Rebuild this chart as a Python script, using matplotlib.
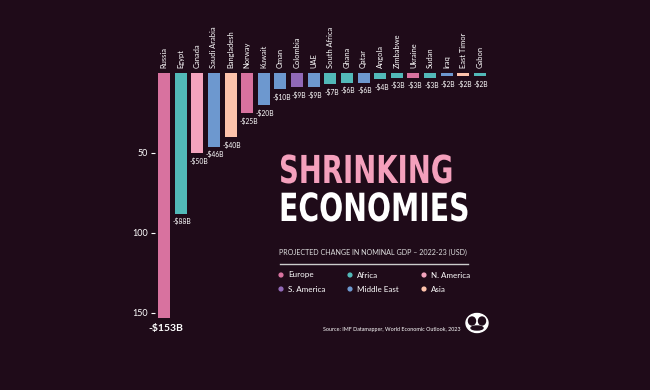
import matplotlib
matplotlib.use("Agg")
import matplotlib.pyplot as plt
from matplotlib.patches import Ellipse
from matplotlib.patheffects import AbstractPathEffect
from matplotlib.transforms import Affine2D

countries = ["Russia", "Egypt", "Canada", "Saudi Arabia", "Bangladesh", "Norway", "Kuwait",
             "Oman", "Colombia", "UAE", "South Africa", "Ghana", "Qatar", "Angola",
             "Zimbabwe", "Ukraine", "Sudan", "Iraq", "East Timor", "Gabon"]
change_bn = [153, 88, 50, 46, 40, 25, 20, 10, 9, 9, 7, 6, 6, 4, 3, 3, 3, 2, 2, 2]
regions = ["Europe", "Africa", "N. America", "Middle East", "Asia", "Europe", "Middle East",
           "Middle East", "S. America", "Middle East", "Africa", "Africa", "Middle East", "Africa",
           "Africa", "Europe", "Africa", "Middle East", "Asia", "Africa"]
region_colors = {
    "Europe": "#d8729f",
    "Africa": "#52b9b8",
    "N. America": "#f4a3bd",
    "S. America": "#9169b7",
    "Middle East": "#6d98cf",
    "Asia": "#fdc2ab",
}
legend_order = ["Europe", "Africa", "N. America", "S. America", "Middle East", "Asia"]
y_ticks = [50, 100, 150]

BG = "#1f0b19"
W, H = 650, 390
FONT = ["Lato", "DejaVu Sans"]


class VStretch(AbstractPathEffect):
    """Draw the glyph paths stretched vertically about the baseline."""
    def __init__(self, sy=1.0):
        super().__init__()
        self.sy = sy

    def draw_path(self, renderer, gc, tpath, affine, rgbFace=None):
        renderer.draw_path(gc, tpath, Affine2D().scale(1.0, self.sy) + affine, rgbFace)


fig = plt.figure(figsize=(6.5, 3.9), dpi=100, facecolor=BG)

x0_pix, step_pix = 164.0, 16.63
xl, xr = -0.55, 20.0
left_pix = x0_pix + xl * step_pix
right_pix = x0_pix + xr * step_pix
top_pix, bottom_pix = 73.0, 329.0
ax = fig.add_axes([left_pix / W, 1 - bottom_pix / H, (right_pix - left_pix) / W, (bottom_pix - top_pix) / H])
ax.set_facecolor("none")
ax.set_xlim(xl, xr)
ax.set_ylim(160, 0)
for s in ax.spines.values():
    s.set_visible(False)

xs = list(range(len(countries)))
cols = [region_colors[r] for r in regions]
ax.bar(xs, change_bn, width=0.72, color=cols, align="center")

ax.set_xticks([])
ax.set_yticks(y_ticks)
ax.set_yticklabels([str(t) for t in y_ticks], color="white", fontsize=6.5, family=FONT)
ax.tick_params(axis="y", colors="white", length=3, width=0.8, pad=2)

for i, (c, v) in enumerate(zip(countries, change_bn)):
    ax.annotate(c, (i, 0), xytext=(0, 3.5), textcoords="offset points", rotation=90,
                ha="center", va="bottom", color="white", fontsize=5.4, family=FONT)
    if i == 0:
        ax.annotate(f"-${v}B", (i, v), xytext=(1.5, -4.5), textcoords="offset points",
                    ha="center", va="top", color="white", fontsize=7.5, fontweight="bold", family=FONT)
    else:
        ax.annotate(f"-${v}B", (i, v), xytext=(1.0, -3), textcoords="offset points",
                    ha="center", va="top", color="white", fontsize=4.9, family=FONT)

ov = fig.add_axes([0, 0, 1, 1])
ov.set_xlim(0, W)
ov.set_ylim(H, 0)
ov.axis("off")
ov.set_facecolor("none")

TITLE_FONT = ["DejaVu Sans"]
ov.text(279, 183, "SHRINKING", color="#f4a0bc", fontsize=19.8, fontweight="bold",
        family=TITLE_FONT, ha="left", va="baseline", path_effects=[VStretch(1.4)])
ov.text(279, 221, "ECONOMIES", color="white", fontsize=20.4, fontweight="bold",
        family=TITLE_FONT, ha="left", va="baseline", path_effects=[VStretch(1.37)])

ov.text(279, 252, "PROJECTED CHANGE IN NOMINAL GDP \u2013 2022-23 (USD)", color="#dddddd",
        fontsize=5.15, family=FONT, ha="left", va="center")
ov.plot([280, 468], [264, 264], color="#cccccc", lw=1)

lx = [281, 350, 424]
ly = [275, 289]
for k, name in enumerate(legend_order):
    r, cidx = divmod(k, 3)
    ov.scatter([lx[cidx]], [ly[r]], s=14, color=region_colors[name], edgecolors="none")
    ov.text(lx[cidx] + 7, ly[r], name, color="white", fontsize=5.8, family=FONT,
            ha="left", va="center")

ov.text(323, 329, "Source: IMF Datamapper, World Economic Outlook, 2023", color="white",
        fontsize=3.9, family=FONT, ha="left", va="center")

ov.add_patch(Ellipse((477, 323), 22, 19, color="white"))
ov.add_patch(Ellipse((472, 321), 7, 8, color=BG))
ov.add_patch(Ellipse((482, 321), 7, 8, color=BG))
ov.add_patch(Ellipse((477, 328), 12, 4, color=BG))

fig.savefig("out.png", dpi=100, facecolor=BG)
